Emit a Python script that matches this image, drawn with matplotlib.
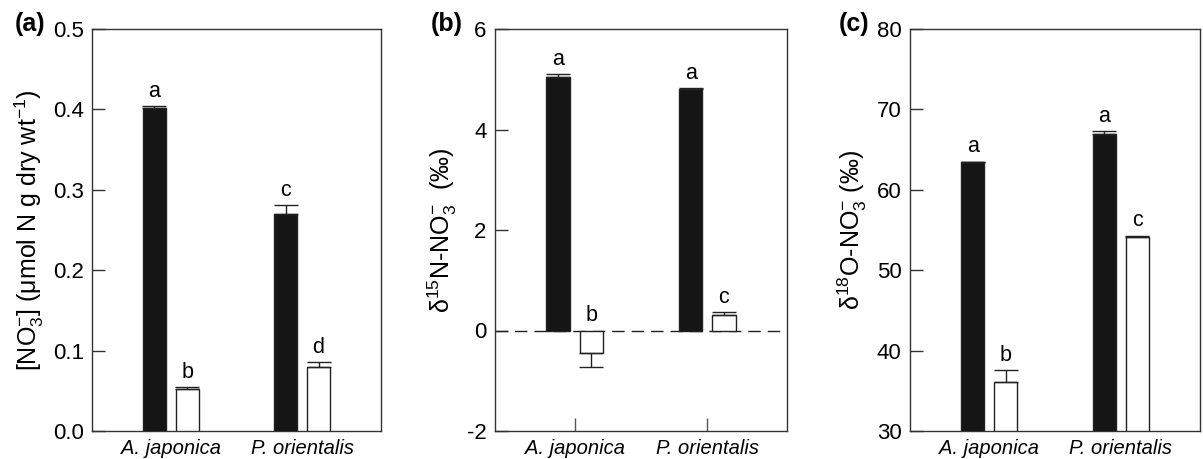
import numpy as np
import matplotlib.pyplot as plt

plt.rcParams['font.family'] = ['Liberation Sans', 'DejaVu Sans']
plt.rcParams['mathtext.fontset'] = 'custom'
plt.rcParams['mathtext.rm'] = 'Liberation Sans'
plt.rcParams['mathtext.it'] = 'Liberation Sans:italic'
plt.rcParams['mathtext.default'] = 'regular'
plt.rcParams['axes.unicode_minus'] = False

species = ['A. japonica', 'P. orientalis']

# (a) nitrate concentration
no3_black = [0.402, 0.270]
no3_black_err = [0.002, 0.011]
no3_white = [0.052, 0.079]
no3_white_err = [0.003, 0.007]
no3_letters = [['a', 'c'], ['b', 'd']]

# (b) d15N
n15_black = [5.05, 4.81]
n15_black_err = [0.05, 0.01]
n15_white = [-0.44, 0.30]
n15_white_err = [0.29, 0.07]
n15_letters = [['a', 'a'], ['b', 'c']]

# (c) d18O
o18_black = [63.4, 66.9]
o18_black_err = [0.1, 0.4]
o18_white = [36.1, 54.1]
o18_white_err = [1.5, 0.2]
o18_letters = [['a', 'a'], ['b', 'c']]

fig = plt.figure(figsize=(12.03, 4.59), dpi=100)
W, H = 1203, 459


def make_ax(left, right, top=29, bottom=431):
    return fig.add_axes([left / W, 1 - bottom / H, (right - left) / W, (bottom - top) / H])


def draw(ax, black, black_err, white, white_err, letters, ylim, yticks, base):
    x = np.arange(len(species))
    w = 0.175
    off = 0.125
    for vals, errs, pos, face, lets in [(black, black_err, x - off, '#151515', letters[0]),
                                        (white, white_err, x + off, 'white', letters[1])]:
        bottoms = [base] * len(vals)
        heights = [v - base for v in vals]
        ax.bar(pos, heights, width=w, bottom=bottoms, color=face, edgecolor='#222222',
               linewidth=1.0, zorder=3)
        lo = [e if v < 0 else 0 for v, e in zip(vals, errs)]
        hi = [0 if v < 0 else e for v, e in zip(vals, errs)]
        ax.errorbar(pos, vals, yerr=[lo, hi], fmt='none', ecolor='#222222',
                    elinewidth=1.0, capsize=8.5, capthick=1.0, zorder=4)
        for p, v, e, t in zip(pos, vals, errs, lets):
            yy = 0 if v < 0 else v + e
            ax.annotate(t, (p, yy), xytext=(0, 3), textcoords='offset points',
                        ha='center', va='bottom', fontsize=15.5)
    ax.set_xlim(-0.6, 1.6)
    ax.set_ylim(*ylim)
    ax.set_yticks(yticks)
    ax.set_xticks(x)
    ax.set_xticklabels(species, fontstyle='italic', fontsize=14.5)
    ax.tick_params(axis='y', direction='in', length=9.5, width=1, labelsize=16,
                   colors='#333333', labelcolor='black', pad=6)
    ax.tick_params(axis='x', direction='in', length=0, labelsize=14.5, pad=6)
    for s in ax.spines.values():
        s.set_color('#333333')
        s.set_linewidth(1.0)


ax1 = make_ax(92, 381)
draw(ax1, no3_black, no3_black_err, no3_white, no3_white_err, no3_letters,
     (0, 0.5), [0.0, 0.1, 0.2, 0.3, 0.4, 0.5], 0)
ax1.set_yticklabels(['0.0', '0.1', '0.2', '0.3', '0.4', '0.5'])
ax1.set_ylabel(r'[NO$_3^{-}$] ($\mathregular{\mu}$mol N g dry wt$^{-1}$)', fontsize=18, labelpad=5)

ax2 = make_ax(495, 787)
draw(ax2, n15_black, n15_black_err, n15_white, n15_white_err, n15_letters,
     (-2, 6), [-2, 0, 2, 4, 6], 0)
ax2.axhline(0, color='#222222', lw=1.0, linestyle=(0, (9, 5)), zorder=2)
ax2.tick_params(axis='x', length=9.5, width=1, color='#555555')
ax2.set_ylabel(r'$\delta^{15}$N-NO$_3^{-}$  (‰)', fontsize=18, labelpad=6)

ax3 = make_ax(910, 1200)
draw(ax3, o18_black, o18_black_err, o18_white, o18_white_err, o18_letters,
     (30, 80), [30, 40, 50, 60, 70, 80], 30)
ax3.set_ylabel(r'$\delta^{18}$O-NO$_3^{-}$ (‰)', fontsize=18, labelpad=6)

for lab, px in [('(a)', 15), ('(b)', 431), ('(c)', 839)]:
    fig.text(px / W, 1 - 31 / H, lab, fontsize=18, fontweight='bold', ha='left', va='baseline')

fig.savefig('out.png', dpi=100)
